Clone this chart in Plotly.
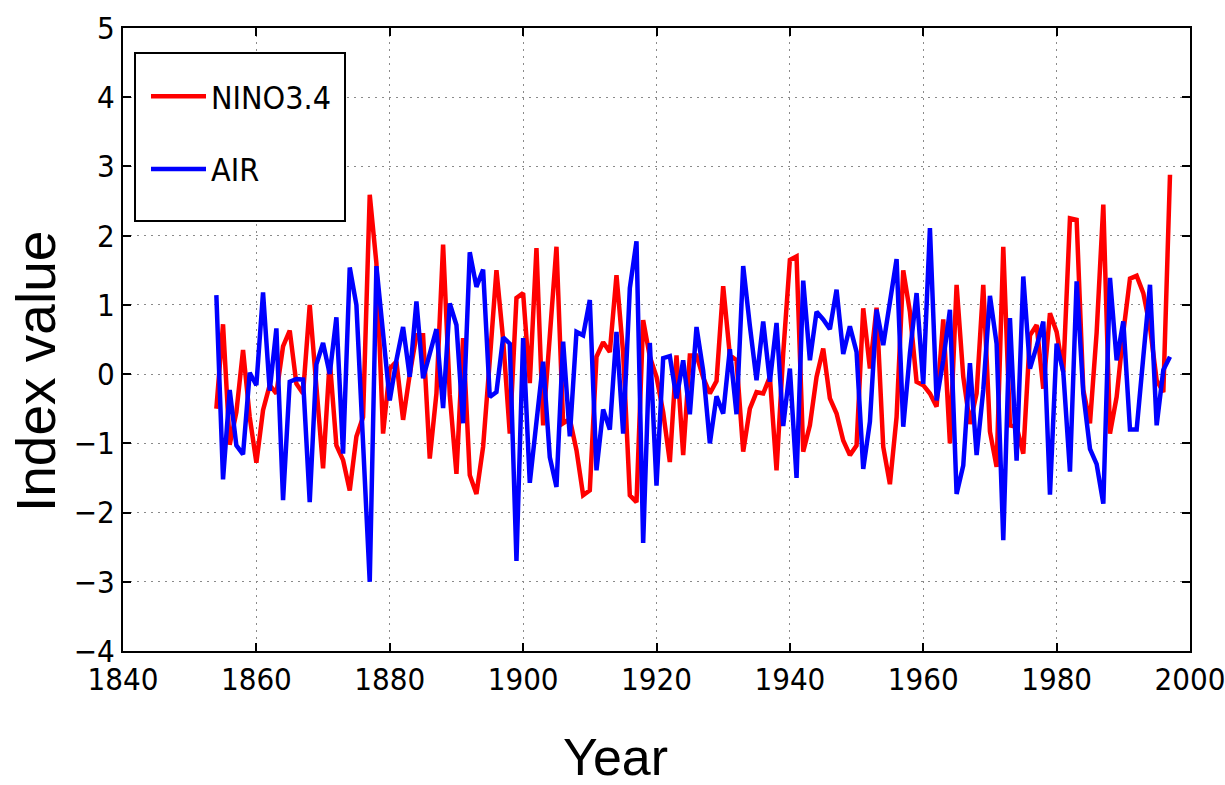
import plotly.graph_objects as go

years = list(range(1854, 1998))

nino34 = [
    -0.50, 0.72, -1.02, -0.55, 0.35, -0.62, -1.28, -0.52, -0.16, -0.28,   # 1854-1863
    0.40, 0.63, -0.14, -0.28, 1.00, -0.28, -1.36, 0.20, -1.03, -1.24,     # 1864-1873
    -1.68, -0.90, -0.62, 2.59, 1.60, -0.86, 0.08, 0.18, -0.66, 0.00,      # 1874-1883
    0.56, 0.56, -1.22, -0.28, 1.87, -0.30, -1.44, 0.52, -1.46, -1.73,     # 1884-1893
    -1.05, 0.20, 1.50, 0.50, -0.86, 1.10, 1.17, -0.13, 1.82, -0.74,       # 1894-1903
    0.54, 1.84, -0.71, -0.65, -1.10, -1.75, -1.68, 0.25, 0.46, 0.32,      # 1904-1913
    1.43, 0.30, -1.75, -1.85, 0.78, 0.25, -0.04, -0.55, -1.27, 0.27,      # 1914-1923
    -1.17, 0.27, 0.27, -0.05, -0.28, -0.10, 1.27, 0.27, 0.20, -1.12,      # 1924-1933
    -0.50, -0.26, -0.28, -0.04, -1.39, 0.30, 1.65, 1.70, -1.12, -0.74,    # 1934-1943
    -0.04, 0.37, -0.35, -0.57, -0.96, -1.17, -1.03, 0.95, 0.08, 0.96,     # 1944-1953
    -1.05, -1.59, -0.62, 1.50, 0.90, -0.11, -0.16, -0.28, -0.47, 0.79,    # 1954-1963
    -1.00, 1.29, -0.04, -0.72, -0.28, 1.29, -0.83, -1.34, 1.84, -0.74,    # 1964-1973
    -0.76, -1.15, 0.56, 0.71, -0.21, 0.88, 0.61, 0.03, 2.25, 2.23,        # 1974-1983
    -0.23, -0.71, 0.60, 2.45, -0.86, -0.33, 0.60, 1.38, 1.42, 1.17,       # 1984-1993
    0.68, -0.09, -0.26, 2.88,                                             # 1994-1997
]

air = [
    1.14, -1.52, -0.23, -1.03, -1.16, 0.02, -0.16, 1.18, -0.24, 0.66,     # 1854-1863
    -1.82, -0.11, -0.07, -0.08, -1.85, 0.14, 0.45, 0.00, 0.82, -1.15,     # 1864-1873
    1.54, 1.00, -1.00, -3.00, 1.56, 0.60, -0.38, 0.20, 0.68, -0.04,       # 1874-1883
    1.05, -0.06, 0.30, 0.65, -0.49, 1.02, 0.71, -0.71, 1.76, 1.26,        # 1884-1893
    1.51, -0.33, -0.26, 0.53, 0.44, -2.70, 0.52, -1.57, -0.69, 0.18,      # 1894-1903
    -1.20, -1.63, 0.47, -0.90, 0.61, 0.56, 1.07, -1.39, -0.51, -0.80,     # 1904-1913
    0.61, -0.86, 1.24, 1.92, -2.44, 0.45, -1.61, 0.23, 0.26, -0.35,       # 1914-1923
    0.20, -0.58, 0.68, 0.05, -1.00, -0.32, -0.57, 0.36, -0.58, 1.56,      # 1924-1933
    0.70, -0.09, 0.76, -0.11, 0.74, -0.75, 0.08, -1.50, 1.35, 0.20,       # 1934-1943
    0.90, 0.79, 0.65, 1.22, 0.29, 0.69, 0.32, -1.37, -0.69, 0.93,         # 1944-1953
    0.42, 1.02, 1.66, -0.76, 0.30, 1.17, -0.14, 2.11, -0.38, 0.20,        # 1954-1963
    0.93, -1.73, -1.32, 0.16, -1.17, -0.23, 1.13, 0.44, -2.40, 0.81,      # 1964-1973
    -1.25, 1.41, 0.08, 0.40, 0.76, -1.74, 0.44, 0.03, -1.41, 1.34,        # 1974-1983
    -0.28, -1.08, -1.30, -1.87, 1.39, 0.20, 0.76, -0.80, -0.80, 0.25,     # 1984-1993
    1.29, -0.74, 0.06, 0.25,                                              # 1994-1997
]

x_ticks = [1840, 1860, 1880, 1900, 1920, 1940, 1960, 1980, 2000]
y_ticks = [-4, -3, -2, -1, 0, 1, 2, 3, 4, 5]

narrow = "Liberation Sans Narrow, DejaVu Sans Condensed, DejaVu Sans"
tick_font = dict(family=narrow, size=31, color="black")
title_family = "Liberation Sans, Arial"

# plot-area pixel geometry (for paper-coordinate placement)
L, R, T, B = 123, 1190, 28, 651
W, H = R - L, B - T

def px(xp):
    return (xp - L) / W

def py(yp):
    return (B - yp) / H

fig = go.Figure()
fig.add_trace(go.Scatter(x=years, y=nino34, mode="lines", name="NINO3.4",
                         line=dict(color="#ff0000", width=4.5), legendgroup="a"))
fig.add_trace(go.Scatter(x=years, y=air, mode="lines", name="AIR",
                         line=dict(color="#0000ff", width=4.5), legendgroup="b"))

axis_common = dict(
    showline=True, linecolor="black", linewidth=2, mirror="ticks",
    ticks="inside", ticklen=8, tickwidth=1.5, tickcolor="black",
    showgrid=True, gridcolor="#8a8a8a", gridwidth=1.2, griddash="2px,5px",
    zeroline=False, tickfont=tick_font, automargin=False,
    ticklabeloverflow="allow",
)

fig.update_xaxes(range=[1840, 2000], tickvals=x_ticks, **axis_common)
fig.update_yaxes(range=[-4, 5], tickvals=y_ticks, **axis_common)

fig.add_annotation(text="Year", xref="paper", yref="paper",
                   x=px(615), y=py(757),
                   xanchor="center", yanchor="middle", showarrow=False,
                   font=dict(family=title_family, size=52, color="black"))
fig.add_annotation(text="Index value", xref="paper", yref="paper",
                   x=px(36), y=py(372),
                   xanchor="center", yanchor="middle", showarrow=False, textangle=-90,
                   font=dict(family=title_family, size=55, color="black"))

# legend frame
fig.add_shape(type="rect", xref="paper", yref="paper",
              x0=px(135), x1=px(345), y0=py(221), y1=py(53),
              line=dict(color="black", width=2), fillcolor="white", layer="above")

fig.update_layout(
    width=1225, height=785,
    margin=dict(l=L, r=1225 - R, t=T, b=785 - B),
    paper_bgcolor="white", plot_bgcolor="white",
    legend=dict(x=px(146), y=py(69), xanchor="left", yanchor="top",
                borderwidth=0, bgcolor="rgba(0,0,0,0)",
                font=dict(family=narrow, size=32, color="black"),
                tracegroupgap=28, itemwidth=55),
    showlegend=True,
)

fig.write_html("out.html")
